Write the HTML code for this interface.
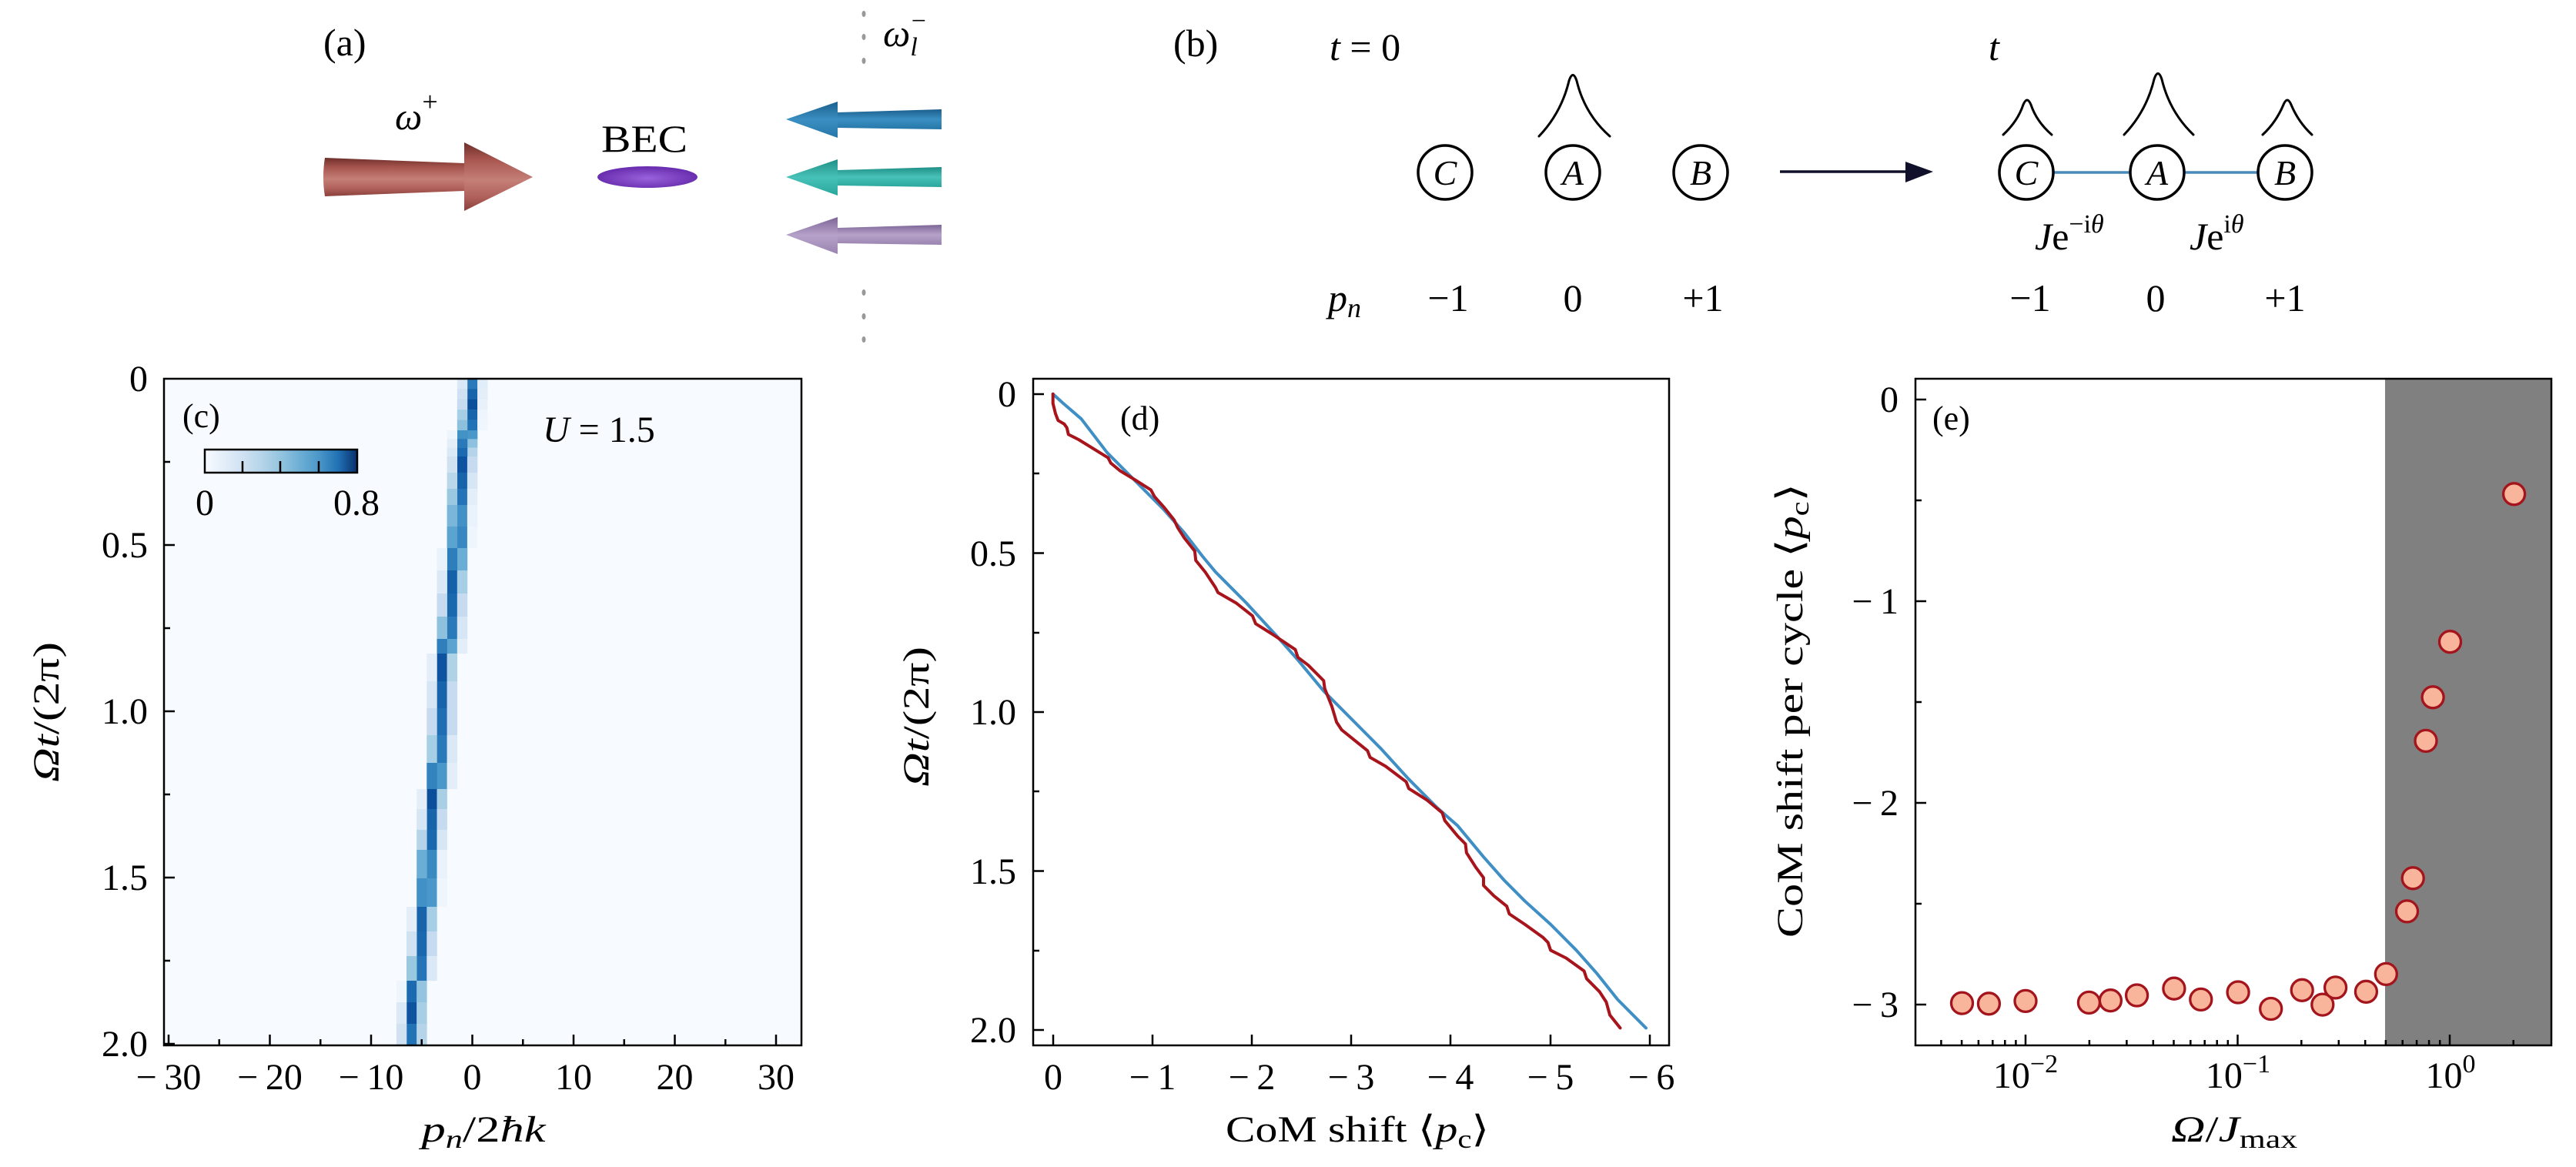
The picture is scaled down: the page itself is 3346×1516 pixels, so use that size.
<!DOCTYPE html>
<html><head><meta charset="utf-8"><style>
html,body{margin:0;padding:0;background:#fff;}
svg{display:block;}
text{font-family:"Liberation Serif",serif;fill:#000;}
.it{font-style:italic;}
</style></head><body>
<svg xmlns="http://www.w3.org/2000/svg" width="3346" height="1516" viewBox="0 0 3346 1516">
<defs>
<linearGradient id="gR" x1="0" y1="0" x2="0" y2="1"><stop offset="0" stop-color="#6e2e2a"/><stop offset="0.25" stop-color="#a8564f"/><stop offset="0.55" stop-color="#c47f77"/><stop offset="0.8" stop-color="#b0605a"/><stop offset="1" stop-color="#8a403b"/></linearGradient>
<linearGradient id="gB" x1="0" y1="0" x2="0" y2="1"><stop offset="0" stop-color="#1b5f8c"/><stop offset="0.5" stop-color="#3a8fc2"/><stop offset="1" stop-color="#2677a8"/></linearGradient>
<linearGradient id="gT" x1="0" y1="0" x2="0" y2="1"><stop offset="0" stop-color="#1f8f86"/><stop offset="0.5" stop-color="#48c2b8"/><stop offset="1" stop-color="#2aa69c"/></linearGradient>
<linearGradient id="gP" x1="0" y1="0" x2="0" y2="1"><stop offset="0" stop-color="#7d6597"/><stop offset="0.5" stop-color="#b6a2c9"/><stop offset="1" stop-color="#9a84b0"/></linearGradient>
<radialGradient id="gBEC" cx="0.5" cy="0.55" r="0.5"><stop offset="0" stop-color="#9a62dc"/><stop offset="1" stop-color="#6a2fb0"/></radialGradient>
<linearGradient id="gCB" x1="0" y1="0" x2="1" y2="0"><stop offset="0" stop-color="#f7fbff"/><stop offset="0.125" stop-color="#e3eef9"/><stop offset="0.25" stop-color="#cfe1f2"/><stop offset="0.375" stop-color="#b5d4e9"/><stop offset="0.5" stop-color="#93c4de"/><stop offset="0.625" stop-color="#6daed5"/><stop offset="0.75" stop-color="#4b97c9"/><stop offset="0.875" stop-color="#2171b5"/><stop offset="1" stop-color="#08306b"/></linearGradient>
</defs>
<rect width="3346" height="1516" fill="#fff"/>

<!-- ===== Panel (a) ===== -->
<text x="420" y="72" font-size="50">(a)</text>
<text x="513" y="168" font-size="50" class="it">ω<tspan dy="-24" font-size="36" font-style="normal">+</tspan></text>
<text x="781" y="197" font-size="50" textLength="112" lengthAdjust="spacingAndGlyphs">BEC</text>
<text x="1147" y="60" font-size="50" class="it">ω<tspan dy="12" font-size="34">l</tspan><tspan dx="-8" dy="-34" font-size="34" font-style="normal">−</tspan></text>
<g fill="#999">
<ellipse cx="1122" cy="18" rx="2.5" ry="4"/><ellipse cx="1122" cy="48" rx="2.5" ry="4"/><ellipse cx="1122" cy="79" rx="2.5" ry="4"/>
<ellipse cx="1122" cy="380" rx="2.5" ry="4"/><ellipse cx="1122" cy="411" rx="2.5" ry="4"/><ellipse cx="1122" cy="441" rx="2.5" ry="4"/>
</g>
<!-- red arrow -->
<path d="M422,205 L603,212 L603,248 L422,255 Q418,230 422,205 Z" fill="url(#gR)"/>
<path d="M603,185 L692,230 L603,274 Z" fill="url(#gR)"/>
<!-- BEC -->
<ellipse cx="841" cy="230" rx="65" ry="14" fill="url(#gBEC)"/>
<!-- left arrows -->
<path d="M1088,146 L1223,142 L1223,168 L1088,166 Z" fill="url(#gB)"/>
<path d="M1088,132 L1021,155 L1088,179 Z" fill="url(#gB)"/>
<path d="M1088,221 L1223,217 L1223,243 L1088,241 Z" fill="url(#gT)"/>
<path d="M1088,207 L1021,230 L1088,254 Z" fill="url(#gT)"/>
<path d="M1088,296 L1223,292 L1223,318 L1088,316 Z" fill="url(#gP)"/>
<path d="M1088,282 L1021,305 L1088,330 Z" fill="url(#gP)"/>

<!-- ===== Panel (b) ===== -->
<text x="1524" y="73" font-size="50">(b)</text>
<text x="1727" y="78" font-size="50"><tspan class="it">t</tspan> = 0</text>
<text x="2583" y="78" font-size="50" class="it">t</text>
<g fill="none" stroke="#000" stroke-width="3" stroke-linecap="round">
<path d="M1999,177 C2020,155 2032,130 2038,105 Q2043,90 2048,105 C2054,130 2066,155 2091,177"/>
<path d="M2602,175 C2616,162 2624,148 2628,136 Q2633,124 2638,136 C2642,148 2650,162 2665,175"/>
<path d="M2759,175 C2780,153 2792,128 2798,103 Q2803,88 2808,103 C2814,128 2826,153 2849,175"/>
<path d="M2939,175 C2953,162 2961,148 2966,136 Q2971,124 2976,136 C2981,148 2989,162 3003,175"/>
</g>
<g stroke="#4a8ab8" stroke-width="3.5"><line x1="2667" y1="224" x2="2767" y2="224"/><line x1="2837" y1="224" x2="2933" y2="224"/></g>
<g fill="#fff" stroke="#000" stroke-width="3.5">
<circle cx="1877" cy="224" r="35"/><circle cx="2043" cy="224" r="35"/><circle cx="2209" cy="224" r="35"/>
<circle cx="2632" cy="224" r="35"/><circle cx="2802" cy="224" r="35"/><circle cx="2968" cy="224" r="35"/>
</g>
<g font-size="46" class="it" text-anchor="middle">
<text x="1877" y="240">C</text><text x="2043" y="240">A</text><text x="2209" y="240">B</text>
<text x="2632" y="240">C</text><text x="2802" y="240">A</text><text x="2968" y="240">B</text>
</g>
<line x1="2312" y1="223" x2="2480" y2="223" stroke="#10102a" stroke-width="3.5"/>
<path d="M2475,210 L2511,223 L2475,237 Z" fill="#10102a"/>
<text x="2643" y="324" font-size="50"><tspan class="it">J</tspan>e<tspan dy="-22" font-size="34">−i<tspan class="it">θ</tspan></tspan></text>
<text x="2844" y="324" font-size="50"><tspan class="it">J</tspan>e<tspan dy="-22" font-size="34">i<tspan class="it">θ</tspan></tspan></text>
<text x="1725" y="404" font-size="50" class="it">p<tspan dy="8" font-size="36">n</tspan></text>
<g font-size="50" text-anchor="middle">
<text x="1881" y="404">−1</text><text x="2043" y="404">0</text><text x="2212" y="404">+1</text>
<text x="2637" y="404">−1</text><text x="2800" y="404">0</text><text x="2968" y="404">+1</text>
</g>

<!-- ===== Panel (c) ===== -->
<rect x="213" y="492" width="828" height="866" fill="#f7fbff"/>
<g>
<rect x="606.9" y="492" width="13.4" height="13.6" fill="#2a7ab9"/><rect x="593.8" y="492" width="13.4" height="13.6" fill="#dbe9f6"/><rect x="620.1" y="492" width="13.4" height="13.6" fill="#e1edf8"/>
<rect x="606.9" y="505.4" width="13.4" height="13.6" fill="#1764ab"/><rect x="593.8" y="505.4" width="13.4" height="13.6" fill="#cfe1f2"/><rect x="620.1" y="505.4" width="13.4" height="13.6" fill="#e3eef9"/>
<rect x="606.9" y="518.8" width="13.4" height="13.6" fill="#0b4f9b"/><rect x="593.8" y="518.8" width="13.4" height="13.6" fill="#c6dbef"/><rect x="620.1" y="518.8" width="13.4" height="13.6" fill="#e8f1fa"/>
<rect x="606.9" y="532.2" width="13.4" height="13.6" fill="#1764ab"/><rect x="593.8" y="532.2" width="13.4" height="13.6" fill="#a6cee4"/><rect x="620.1" y="532.2" width="13.4" height="13.6" fill="#eef5fc"/>
<rect x="606.9" y="545.6" width="13.4" height="13.6" fill="#2272b6"/><rect x="593.8" y="545.6" width="13.4" height="13.6" fill="#8cc0dd"/><rect x="620.1" y="545.6" width="13.4" height="13.6" fill="#f0f6fd"/>

<rect x="606.9" y="559" width="13.4" height="11.5" fill="#4a98c9"/><rect x="593.8" y="559" width="13.4" height="11.5" fill="#4292c6"/><rect x="580.6" y="559" width="13.4" height="11.5" fill="#eef5fc"/>
<rect x="606.9" y="570.3" width="13.4" height="11.5" fill="#8dc1dd"/><rect x="593.8" y="570.3" width="13.4" height="11.5" fill="#2a7ab9"/><rect x="580.6" y="570.3" width="13.4" height="11.5" fill="#e3eef9"/>
<rect x="606.9" y="581.6" width="13.4" height="11.6" fill="#b5d4e9"/><rect x="593.8" y="581.6" width="13.4" height="11.6" fill="#1c6aaf"/><rect x="580.6" y="581.6" width="13.4" height="11.6" fill="#dbe9f6"/>

<rect x="593.8" y="593" width="13.4" height="21.2" fill="#0d53a0"/><rect x="606.9" y="593" width="13.4" height="21.2" fill="#c6dbef"/><rect x="580.6" y="593" width="13.4" height="21.2" fill="#d0e2f2"/>
<rect x="593.8" y="614" width="13.4" height="21.2" fill="#1864aa"/><rect x="606.9" y="614" width="13.4" height="21.2" fill="#d6e6f4"/><rect x="580.6" y="614" width="13.4" height="21.2" fill="#b9d6ea"/>
<rect x="593.8" y="635" width="13.4" height="21.2" fill="#2474b7"/><rect x="606.9" y="635" width="13.4" height="21.2" fill="#e3eef9"/><rect x="580.6" y="635" width="13.4" height="21.2" fill="#9ac8e0"/>

<rect x="593.8" y="656" width="13.4" height="28.2" fill="#4191c6"/><rect x="580.6" y="656" width="13.4" height="28.2" fill="#7ab6d9"/><rect x="606.9" y="656" width="13.4" height="28.2" fill="#eaf2fb"/>
<rect x="593.8" y="684" width="13.4" height="28.2" fill="#3787c0"/><rect x="580.6" y="684" width="13.4" height="28.2" fill="#5ba3d0"/><rect x="606.9" y="684" width="13.4" height="28.2" fill="#eef5fc"/>
<rect x="593.8" y="712" width="13.4" height="29.2" fill="#6aaed6"/><rect x="580.6" y="712" width="13.4" height="29.2" fill="#2e7ebc"/><rect x="567.5" y="712" width="13.4" height="29.2" fill="#eaf2fb"/>

<rect x="580.6" y="741" width="13.4" height="30.2" fill="#1561a9"/><rect x="593.8" y="741" width="13.4" height="30.2" fill="#a6cee4"/><rect x="567.5" y="741" width="13.4" height="30.2" fill="#dbe9f6"/>
<rect x="580.6" y="771" width="13.4" height="30.2" fill="#1a68ae"/><rect x="593.8" y="771" width="13.4" height="30.2" fill="#c6dbef"/><rect x="567.5" y="771" width="13.4" height="30.2" fill="#c6dbef"/>
<rect x="580.6" y="801" width="13.4" height="29.2" fill="#2a7ab9"/><rect x="593.8" y="801" width="13.4" height="29.2" fill="#d6e6f4"/><rect x="567.5" y="801" width="13.4" height="29.2" fill="#8dc1dd"/>
<rect x="580.6" y="830" width="13.4" height="19.2" fill="#5ba3d0"/><rect x="567.5" y="830" width="13.4" height="19.2" fill="#2f7fbc"/><rect x="593.8" y="830" width="13.4" height="19.2" fill="#e3eef9"/>

<rect x="567.5" y="849" width="13.4" height="36.2" fill="#0d53a0"/><rect x="580.6" y="849" width="13.4" height="36.2" fill="#b0d2e7"/><rect x="554.3" y="849" width="13.4" height="36.2" fill="#e3eef9"/>
<rect x="567.5" y="885" width="13.4" height="35.2" fill="#1764ab"/><rect x="580.6" y="885" width="13.4" height="35.2" fill="#c6dbef"/><rect x="554.3" y="885" width="13.4" height="35.2" fill="#d6e6f4"/>
<rect x="567.5" y="920" width="13.4" height="35.2" fill="#1f6eb3"/><rect x="580.6" y="920" width="13.4" height="35.2" fill="#c6dbef"/><rect x="554.3" y="920" width="13.4" height="35.2" fill="#c6dbef"/>
<rect x="567.5" y="955" width="13.4" height="36.2" fill="#2a7ab9"/><rect x="580.6" y="955" width="13.4" height="36.2" fill="#dbe9f6"/><rect x="554.3" y="955" width="13.4" height="36.2" fill="#a6cee4"/>
<rect x="567.5" y="991" width="13.4" height="34.2" fill="#4a98c9"/><rect x="554.3" y="991" width="13.4" height="34.2" fill="#3383be"/><rect x="580.6" y="991" width="13.4" height="34.2" fill="#e3eef9"/>

<rect x="554.3" y="1025" width="13.4" height="26.2" fill="#0b4f9b"/><rect x="567.5" y="1025" width="13.4" height="26.2" fill="#a9cfe5"/><rect x="541.2" y="1025" width="13.4" height="26.2" fill="#e3eef9"/>
<rect x="554.3" y="1051" width="13.4" height="27.2" fill="#1764ab"/><rect x="567.5" y="1051" width="13.4" height="27.2" fill="#c6dbef"/><rect x="541.2" y="1051" width="13.4" height="27.2" fill="#d6e6f4"/>
<rect x="554.3" y="1078" width="13.4" height="26.2" fill="#1a68ae"/><rect x="567.5" y="1078" width="13.4" height="26.2" fill="#d6e6f4"/><rect x="541.2" y="1078" width="13.4" height="26.2" fill="#b5d4e9"/>
<rect x="554.3" y="1104" width="13.4" height="37.2" fill="#3a8ac2"/><rect x="541.2" y="1104" width="13.4" height="37.2" fill="#6aaed6"/><rect x="567.5" y="1104" width="13.4" height="37.2" fill="#eaf2fb"/>
<rect x="554.3" y="1141" width="13.4" height="37.2" fill="#4a98c9"/><rect x="541.2" y="1141" width="13.4" height="37.2" fill="#4191c6"/><rect x="567.5" y="1141" width="13.4" height="37.2" fill="#eef5fc"/>

<rect x="541.2" y="1178" width="13.4" height="32.2" fill="#1764ab"/><rect x="554.3" y="1178" width="13.4" height="32.2" fill="#a6cee4"/><rect x="528" y="1178" width="13.4" height="32.2" fill="#e3eef9"/>
<rect x="541.2" y="1210" width="13.4" height="32.2" fill="#1a68ae"/><rect x="554.3" y="1210" width="13.4" height="32.2" fill="#c6dbef"/><rect x="528" y="1210" width="13.4" height="32.2" fill="#d0e2f2"/>
<rect x="541.2" y="1242" width="13.4" height="32.2" fill="#2474b7"/><rect x="554.3" y="1242" width="13.4" height="32.2" fill="#dbe9f6"/><rect x="528" y="1242" width="13.4" height="32.2" fill="#9ac8e0"/>

<rect x="528" y="1274" width="13.4" height="28.2" fill="#1c6aaf"/><rect x="541.2" y="1274" width="13.4" height="28.2" fill="#94c4df"/><rect x="514.9" y="1274" width="13.4" height="28.2" fill="#eef5fc"/>
<rect x="528" y="1302" width="13.4" height="28.2" fill="#0d53a0"/><rect x="541.2" y="1302" width="13.4" height="28.2" fill="#a6cee4"/><rect x="514.9" y="1302" width="13.4" height="28.2" fill="#dbe9f6"/>
<rect x="528" y="1330" width="13.4" height="28" fill="#2272b6"/><rect x="541.2" y="1330" width="13.4" height="28" fill="#b5d4e9"/><rect x="514.9" y="1330" width="13.4" height="28" fill="#d0e2f2"/>
</g>
<!-- colorbar -->
<rect x="266" y="584" width="198" height="30" fill="url(#gCB)" stroke="#000" stroke-width="2.5"/>
<path d="M315,614 V599 M364,614 V599 M414,614 V599" stroke="#000" stroke-width="2.5"/>
<text x="266" y="669" font-size="48" text-anchor="middle">0</text>
<text x="463" y="669" font-size="48" text-anchor="middle">0.8</text>
<text x="237" y="555" font-size="44">(c)</text>
<text x="705" y="574" font-size="48"><tspan class="it">U</tspan> = 1.5</text>
<!-- c frame & ticks -->
<rect x="213" y="492" width="828" height="866" fill="none" stroke="#000" stroke-width="2.5"/>
<path d="M219,1358V1344 M350.5,1358V1344 M482,1358V1344 M613.5,1358V1344 M745,1358V1344 M876.5,1358V1344 M1008,1358V1344
M284.75,1358V1350 M416.25,1358V1350 M547.75,1358V1350 M679.25,1358V1350 M810.75,1358V1350 M942.25,1358V1350
M213,708H227 M213,924H227 M213,1140H227 M213,1356H227 M213,600H221 M213,816H221 M213,1032H221 M213,1248H221" stroke="#000" stroke-width="2.5" fill="none"/>
<g font-size="48" text-anchor="end">
<text x="192" y="508">0</text><text x="192" y="724">0.5</text><text x="192" y="940">1.0</text><text x="192" y="1156">1.5</text><text x="192" y="1372">2.0</text>
</g>
<g font-size="48" text-anchor="middle">
<text x="219" y="1415">−&#8201;30</text><text x="350.5" y="1415">−&#8201;20</text><text x="482" y="1415">−&#8201;10</text><text x="613.5" y="1415">0</text><text x="745" y="1415">10</text><text x="876.5" y="1415">20</text><text x="1008" y="1415">30</text>
</g>
<text x="628" y="1483" font-size="48" text-anchor="middle" textLength="161" lengthAdjust="spacingAndGlyphs"><tspan class="it">p</tspan><tspan dy="8" font-size="34" class="it">n</tspan><tspan dy="-8">/2</tspan><tspan class="it">ħk</tspan></text>
<text transform="translate(76,925) rotate(-90)" font-size="48" text-anchor="middle" textLength="182" lengthAdjust="spacingAndGlyphs"><tspan class="it">Ωt</tspan>/(2π)</text>

<!-- ===== Panel (d) ===== -->
<g transform="translate(1150,460) scale(0.6698,0.6734)" fill="none" stroke-linejoin="round" stroke-linecap="round">
<polyline vector-effect="non-scaling-stroke" stroke="#3f8fc5" stroke-width="4" points="325,77 345,95 380,125 430,190 480,240 540,300 580,345 615,390 640,420 700,480 760,545 800,590 850,650 900,700 960,760 1015,820 1070,875 1110,910 1160,970 1200,1015 1240,1055 1290,1100 1340,1150 1380,1195 1420,1245 1475,1300"/>
<polyline vector-effect="non-scaling-stroke" stroke="#a8141c" stroke-width="4" points="325,77 325,95 330,115 335,128 347,135 352,142 355,155 375,165 432,200 437,210 455,225 480,240 515,262 522,275 540,295 560,320 567,335 580,355 600,380 602,398 620,420 640,450 645,460 680,480 712,505 718,520 750,540 795,570 800,585 820,600 835,615 850,630 852,645 866,680 875,710 885,725 910,745 935,765 940,778 970,795 1010,825 1015,838 1050,860 1080,885 1085,900 1110,930 1125,945 1127,962 1145,990 1160,1010 1160,1025 1180,1045 1205,1065 1210,1080 1240,1100 1275,1125 1285,1135 1290,1150 1320,1165 1355,1190 1360,1205 1385,1230 1398,1250 1405,1275 1425,1300"/>
</g>
<rect x="1342" y="492" width="826" height="866" fill="none" stroke="#000" stroke-width="2.5"/>
<path d="M1368,1358V1344 M1497,1358V1344 M1626,1358V1344 M1755,1358V1344 M1884,1358V1344 M2014,1358V1344 M2143,1358V1344
M1342,512H1356 M1342,718.5H1356 M1342,925H1356 M1342,1131.5H1356 M1342,1338H1356 M1342,615H1350 M1342,822H1350 M1342,1028H1350 M1342,1235H1350" stroke="#000" stroke-width="2.5" fill="none"/>
<g font-size="48" text-anchor="end">
<text x="1320" y="528">0</text><text x="1320" y="735">0.5</text><text x="1320" y="941">1.0</text><text x="1320" y="1148">1.5</text><text x="1320" y="1354">2.0</text>
</g>
<g font-size="48" text-anchor="middle">
<text x="1368" y="1415">0</text><text x="1497" y="1415">−&#8201;1</text><text x="1626" y="1415">−&#8201;2</text><text x="1755" y="1415">−&#8201;3</text><text x="1884" y="1415">−&#8201;4</text><text x="2014" y="1415">−&#8201;5</text><text x="2145" y="1415">−&#8201;6</text>
</g>
<text x="1455" y="558" font-size="44">(d)</text>
<text x="1763" y="1483" font-size="48" text-anchor="middle" textLength="342" lengthAdjust="spacingAndGlyphs">CoM shift ⟨<tspan class="it">p</tspan><tspan dy="8" font-size="34">c</tspan><tspan dy="-8">⟩</tspan></text>
<text transform="translate(1206,931) rotate(-90)" font-size="48" text-anchor="middle" textLength="182" lengthAdjust="spacingAndGlyphs"><tspan class="it">Ωt</tspan>/(2π)</text>

<!-- ===== Panel (e) ===== -->
<rect x="3098" y="492" width="216" height="866" fill="#808080"/>
<g fill="#f9b59b" stroke="#a3141c" stroke-width="3.3">
<circle cx="2548.5" cy="1303.1" r="14"/><circle cx="2583.4" cy="1303.8" r="14"/><circle cx="2631" cy="1300.4" r="14"/>
<circle cx="2713.4" cy="1302.4" r="14"/><circle cx="2741.4" cy="1299.7" r="14"/><circle cx="2775.6" cy="1293" r="14"/>
<circle cx="2823.9" cy="1284.2" r="14"/><circle cx="2858.8" cy="1298.4" r="14"/><circle cx="2907.1" cy="1289" r="14"/>
<circle cx="2949.7" cy="1310.5" r="14"/><circle cx="2990.2" cy="1286.3" r="14"/><circle cx="3016.8" cy="1305.1" r="14"/>
<circle cx="3033.6" cy="1282.9" r="14"/><circle cx="3073.4" cy="1288.3" r="14"/><circle cx="3099.3" cy="1265.4" r="14"/>
<circle cx="3126.5" cy="1183.9" r="14"/><circle cx="3134.2" cy="1140.8" r="14"/><circle cx="3151" cy="962.4" r="14"/>
<circle cx="3160.1" cy="905.8" r="14"/><circle cx="3182.5" cy="833.7" r="14"/><circle cx="3265.6" cy="641.8" r="14"/>
</g>
<rect x="2488" y="492" width="826" height="866" fill="none" stroke="#000" stroke-width="2.5"/>
<path d="M2631,1358V1344 M2906.5,1358V1344 M3182,1358V1344
M2521.4,1358V1351 M2548.1,1358V1351 M2569.9,1358V1351 M2588.3,1358V1351 M2604.3,1358V1351 M2618.4,1358V1351
M2713.9,1358V1351 M2762.4,1358V1351 M2796.8,1358V1351 M2823.5,1358V1351 M2845.3,1358V1351 M2863.7,1358V1351 M2879.7,1358V1351 M2893.8,1358V1351
M2989.3,1358V1351 M3037.8,1358V1351 M3072.2,1358V1351 M3098.9,1358V1351 M3120.7,1358V1351 M3139.1,1358V1351 M3155.1,1358V1351 M3169.2,1358V1351
M3264.7,1358V1351
M2488,519H2502 M2488,781H2502 M2488,1043H2502 M2488,1305H2502 M2488,650H2496 M2488,912H2496 M2488,1174H2496" stroke="#000" stroke-width="2.5" fill="none"/>
<g font-size="48" text-anchor="end">
<text x="2466" y="535">0</text><text x="2466" y="797">−&#8201;1</text><text x="2466" y="1059">−&#8201;2</text><text x="2466" y="1321">−&#8201;3</text>
</g>
<g font-size="48" text-anchor="middle">
<text x="2631" y="1413">10<tspan dy="-20" font-size="34">−2</tspan></text>
<text x="2907" y="1413">10<tspan dy="-20" font-size="34">−1</tspan></text>
<text x="3183" y="1413">10<tspan dy="-20" font-size="34">0</tspan></text>
</g>
<text x="2510" y="558" font-size="44">(e)</text>
<text x="2902" y="1483" font-size="48" text-anchor="middle" textLength="164" lengthAdjust="spacingAndGlyphs"><tspan class="it">Ω</tspan>/<tspan class="it">J</tspan><tspan dy="8" font-size="34">max</tspan></text>
<text transform="translate(2341,923) rotate(-90)" font-size="48" text-anchor="middle" textLength="590" lengthAdjust="spacingAndGlyphs">CoM shift per cycle ⟨<tspan class="it">p</tspan><tspan dy="8" font-size="34">c</tspan><tspan dy="-8">⟩</tspan></text>
</svg>
</body></html>
